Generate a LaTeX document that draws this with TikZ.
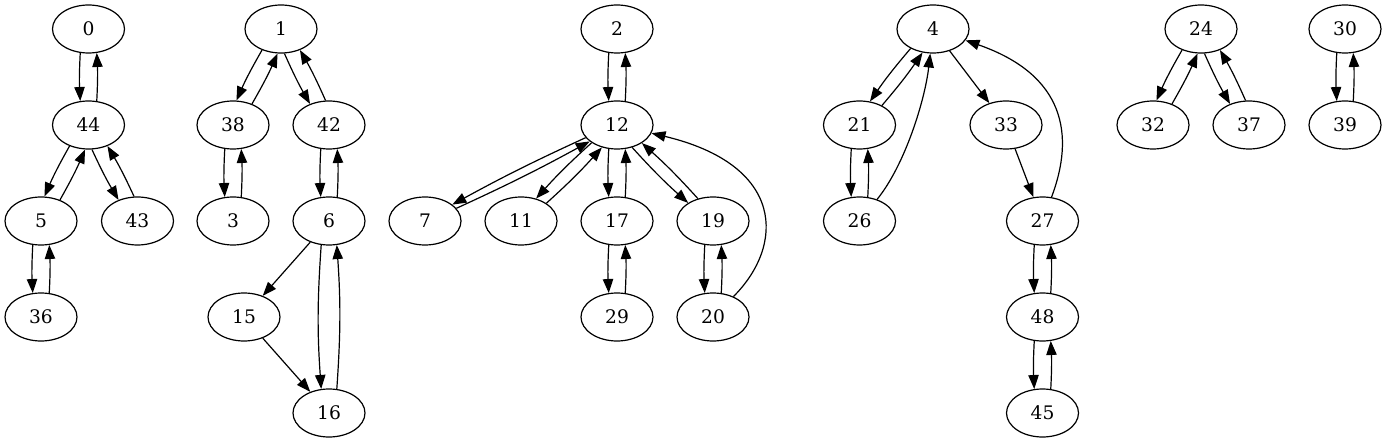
\documentclass[tikz,border=0pt]{standalone}
\usepackage{fontspec}
\setmainfont{DejaVu Serif}
\usetikzlibrary{shapes.geometric,arrows.meta}
\tikzset{
  vtx/.style={ellipse, draw, line width=0.9pt, minimum width=54pt, minimum height=36pt, inner sep=0pt, font=\fontsize{14}{16}\selectfont},
  arr/.style={-{Triangle[length=10.5pt,width=7.8pt]}, line width=0.9pt},
  pair/.style={arr, bend right=#1},
  pair/.default=3
}
\begin{document}
\begin{tikzpicture}[x=0.75pt,y=0.75pt]
\useasboundingbox (0,0) rectangle (1387,443);
% nodes
\node[vtx] (n0)  at (88.5,414) {0};
\node[vtx] (n44) at (88.5,318) {44};
\node[vtx] (n5)  at (41,222) {5};
\node[vtx] (n43) at (137.5,222) {43};
\node[vtx] (n36) at (41,126) {36};
\node[vtx] (n1)  at (281,414) {1};
\node[vtx] (n38) at (233,318) {38};
\node[vtx] (n42) at (329,318) {42};
\node[vtx] (n3)  at (233,222) {3};
\node[vtx] (n6)  at (329,222) {6};
\node[vtx] (n15) at (244,126) {15};
\node[vtx] (n16) at (329,30) {16};
\node[vtx] (n2)  at (617,414) {2};
\node[vtx] (n12) at (617,318) {12};
\node[vtx] (n7)  at (425,222) {7};
\node[vtx] (n11) at (521,222) {11};
\node[vtx] (n17) at (617,222) {17};
\node[vtx] (n19) at (713,222) {19};
\node[vtx] (n29) at (617,126) {29};
\node[vtx] (n20) at (713,126) {20};
\node[vtx] (n4)  at (933,414) {4};
\node[vtx] (n21) at (859.5,318) {21};
\node[vtx] (n33) at (1006,318) {33};
\node[vtx] (n26) at (859.5,222) {26};
\node[vtx] (n27) at (1042.5,222) {27};
\node[vtx] (n48) at (1042.5,126) {48};
\node[vtx] (n45) at (1042.5,30) {45};
\node[vtx] (n24) at (1201,414) {24};
\node[vtx] (n32) at (1153,318) {32};
\node[vtx] (n37) at (1249,318) {37};
\node[vtx] (n30) at (1345,414) {30};
\node[vtx] (n39) at (1345,318) {39};
% component 0
\draw[pair] (n0.251) to (n44.109);
\draw[pair] (n44.71) to (n0.289);
\draw[pair] (n44.228) to (n5.82);
\draw[pair] (n5.48) to (n44.262);
\draw[pair] (n44.278) to (n43.132);
\draw[pair] (n43.98) to (n44.312);
\draw[pair] (n5.251) to (n36.109);
\draw[pair] (n36.71) to (n5.289);
% component 1
\draw[pair] (n1.228) to (n38.82);
\draw[pair] (n38.48) to (n1.262);
\draw[pair] (n1.278) to (n42.132);
\draw[pair] (n42.98) to (n1.312);
\draw[pair] (n38.251) to (n3.109);
\draw[pair] (n3.71) to (n38.289);
\draw[pair] (n42.251) to (n6.109);
\draw[pair] (n6.71) to (n42.289);
\draw[arr] (n6) -- (n15);
\draw[arr] (n15) -- (n16);
\draw[pair=4] (n6.252) to (n16.108);
\draw[pair=4] (n16.72) to (n6.288);
% component 2
\draw[pair] (n2.251) to (n12.109);
\draw[pair] (n12.71) to (n2.289);
\draw[pair=2] (n12.202) to (n7.31);
\draw[pair=2] (n7.22) to (n12.211);
\draw[pair] (n12.215.5) to (n11.56);
\draw[pair] (n11.35.5) to (n12.236);
\draw[pair] (n12.251) to (n17.109);
\draw[pair] (n17.71) to (n12.289);
\draw[pair] (n12.304) to (n19.144.5);
\draw[pair] (n19.124) to (n12.324.5);
\draw[pair] (n17.251) to (n29.109);
\draw[pair] (n29.71) to (n17.289);
\draw[pair] (n19.251) to (n20.109);
\draw[pair] (n20.71) to (n19.289);
\draw[arr] (n20) .. controls (785,198) and (785,278) .. (n12);
% component 4
\draw[pair] (n4.221) to (n21.66);
\draw[pair] (n21.41) to (n4.246);
\draw[arr] (n4) -- (n33);
\draw[arr] (n33) -- (n27);
\draw[arr] (n27) .. controls (1075,308) and (1065,368) .. (n4);
\draw[pair] (n21.251) to (n26.109);
\draw[pair] (n26.71) to (n21.289);
\draw[arr] (n26) .. controls (905,278) and (925,343) .. (n4);
\draw[pair] (n27.251) to (n48.109);
\draw[pair] (n48.71) to (n27.289);
\draw[pair] (n48.251) to (n45.109);
\draw[pair] (n45.71) to (n48.289);
% component 24
\draw[pair] (n24.228) to (n32.82);
\draw[pair] (n32.48) to (n24.262);
\draw[pair] (n24.278) to (n37.132);
\draw[pair] (n37.98) to (n24.312);
% component 30
\draw[pair] (n30.251) to (n39.109);
\draw[pair] (n39.71) to (n30.289);
\end{tikzpicture}
\end{document}
